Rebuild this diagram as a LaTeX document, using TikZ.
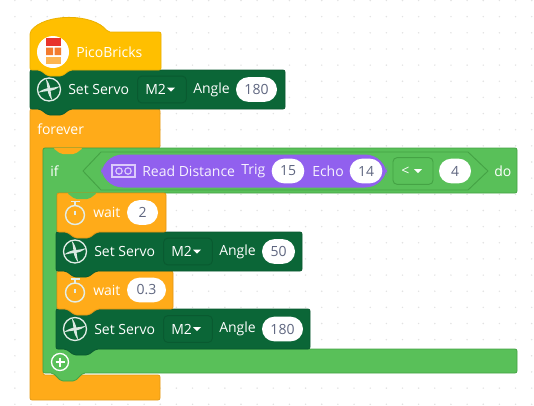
\documentclass[tikz,border=0pt]{standalone}
\usepackage{fontspec}
\setmainfont{Open Sans}
\usetikzlibrary{shapes.misc}

\definecolor{hatyellow}{HTML}{FFBF00}
\definecolor{loopamber}{HTML}{FFAB19}
\definecolor{servogreen}{HTML}{0B6637}
\definecolor{ifgreen}{HTML}{59C059}
\definecolor{ifedge}{HTML}{45A345}
\definecolor{sensorpurple}{HTML}{9160EE}
\definecolor{lavender}{HTML}{DCCBFB}
\definecolor{pilltext}{HTML}{5F6680}
\definecolor{griddot}{HTML}{E2E2E2}
\definecolor{dropdark}{HTML}{095A30}
\definecolor{brickred}{HTML}{E8332C}
\definecolor{brickorange}{HTML}{F37B2E}
\definecolor{bricklight}{HTML}{FDB550}

% block with a tab under it
\newcommand{\stackblock}[5]{
\draw[block,fill=#5,draw=#5!88!black] (#1,#2) -- (#3,#2) -- (#3,#4) -- ({#1+40},#4) -- ({#1+32},{#4+6})
 -- ({#1+18},{#4+6}) -- ({#1+10},#4) -- (#1,#4) -- cycle;
}
\newcommand{\tabonly}[3]{
\fill[#3,rounded corners=1.5pt] ({#1+10},#2) -- ({#1+18},{#2+6}) -- ({#1+32},{#2+6}) -- ({#1+40},#2) -- cycle;
}
% servo row: name, left, top, bottom, right, pill end, value
\newcommand{\servorow}[7]{
\stackblock{#2}{#3}{#5}{#4}{servogreen}
\begin{scope}[shift={({#2+19},{(#3+#4)/2})}]
\draw[iconline,line width=1pt] (0,0) circle (11.5);
\foreach \a in {0,90,180,270}{
\fill[white!85!servogreen,rotate=\a] (0,-1.5) .. controls (4,-1.8) and (8,-2.4) .. (11,-3.4) .. controls (8,-.5) and (4,1) .. (0,1.5) -- cycle;
}
\end{scope}
\node[lbl] (#1set) at ({#2+38},{(#3+#4)/2}) {Set Servo};
\node[drop,draw=dropdark] (#1port) at ({#2+132},{(#3+#4)/2}) {};
\node[lbl] (#1m) at ({#2+115},{(#3+#4)/2}) {M2};
\fill[white] ({#2+137},{(#3+#4)/2-2}) -- ({#2+145},{(#3+#4)/2-2}) -- ({#2+141},{(#3+#4)/2+2}) -- cycle;
\node[lbl] (#1angle) at ({#2+163},{(#3+#4)/2}) {Angle};
\node[pill,minimum width={(#6-#2-206)*.75pt}] (#1val) at ({(#2+206+#6)/2},{(#3+#4)/2}) {#7};
}
% wait row: name, top, bottom, right, pill end, value
\newcommand{\waitrow}[6]{
\stackblock{57}{#2}{#4}{#3}{loopamber}
\begin{scope}[shift={(75,{(#2+#3)/2+2.5})}]
\draw[iconline,line width=1.1pt] (0,0) circle (9.5);
\draw[iconline] (0,-10) -- (0,-13);
\draw[iconline,line width=1.1pt] (-4.5,-13.5) -- (4.5,-13.5);
\draw[iconline,line width=1.1pt] (0,0) -- (0,-4);
\end{scope}
\node[lbl] (#1txt) at (93,{(#2+#3)/2}) {wait};
\node[pill,minimum width={(#5-127)*.75pt}] (#1val) at ({(127+#5)/2},{(#2+#3)/2}) {#6};
}

\begin{document}
\begin{tikzpicture}[x=.75pt,y=-.75pt,
 block/.style={line width=.6pt,rounded corners=1.5pt},
 lbl/.style={anchor=west,inner sep=0pt,text=white,font=\fontsize{10.5}{12}\selectfont},
 pill/.style={rounded rectangle,fill=white,text=pilltext,inner sep=0pt,minimum height=18.5pt,font=\fontsize{10.5}{12}\selectfont},
 drop/.style={rectangle,rounded corners=3pt,line width=.7pt,inner sep=0pt,minimum width=36.5pt,minimum height=20pt},
 iconline/.style={draw=white!88!servogreen,line width=.8pt,line join=round}]
\useasboundingbox (0,0) rectangle (534,405);
\fill[white] (0,0) rectangle (534,405);

\foreach \i in {0,...,32}{
\foreach \j in {0,...,25}{
\fill[griddot] ({14.9+16.15*\i},{.5+16.15*\j}) circle (.8);
}}

% forever
\draw[block,fill=loopamber,draw=loopamber!90!black] (30,109) -- (160,109) -- (160,148) -- (43,148) -- (43,375)
 -- (160,375) -- (160,400) -- (30,400) -- cycle;
\node[lbl] (foreverlbl) at (37,129) {forever};

% if
\draw[block,fill=ifgreen,draw=ifedge] (43,148) -- (517,148) -- (517,193) -- (57,193) -- (57,349) -- (517,349)
 -- (517,373) -- (83,373) -- (75,381) -- (61,381) -- (53,373) -- (43,373) -- cycle;
\tabonly{43}{148}{loopamber}
\node[lbl] (iflbl) at (50,171) {if};
\node[lbl] (dolbl) at (494,171) {do};
\draw[ifedge,line width=.7pt,line join=round] (83,171) -- (101,152) -- (468,152) -- (488,171) -- (468,190) -- (101,190) -- cycle;

% condition
\fill[sensorpurple,rounded corners=16.5] (101,154.5) rectangle (387,187.5);
\draw[lavender,line width=.9pt] (112,165) rectangle (135,177);
\draw[lavender,line width=.9pt] (119,171) circle (3.2) (128,171) circle (3.2);
\node[lbl,text=white!92!sensorpurple] (readlbl) at (142,171) {Read Distance};
\node[lbl,text=white!92!sensorpurple] (triglbl) at (241,171) {Trig};
\node[pill,minimum width=24.5pt] (trigval) at (288,171) {15};
\node[lbl,text=white!92!sensorpurple] (echolbl) at (312,171) {Echo};
\node[pill,minimum width=24.5pt] (echoval) at (366,171) {14};
\node[drop,draw=ifedge,minimum width=30pt] (cmpbox) at (413,171) {};
\node[lbl] (cmplbl) at (401,171) {<};
\fill[white] (414,169) -- (422,169) -- (418,173) -- cycle;
\node[pill,minimum width=24pt] (cmpval) at (455,171) {4};

% plus
\draw[white,line width=1pt,fill=ifgreen] (60,362) circle (8.5);
\draw[white,line width=2.2pt] (55.5,362) -- (64.5,362) (60,357.5) -- (60,366.5);

% inner stack, lowest first
\servorow{servoc}{56}{309}{349}{310}{303}{180}
\waitrow{waitb}{271}{309}{173}{166}{0.3}
\servorow{servob}{56}{232}{271}{302}{295}{50}
\waitrow{waita}{193}{232}{166}{158}{2}
\tabonly{57}{193}{ifgreen}

% top of the stack
\servorow{servoa}{30}{70}{109}{285}{277}{180}
\draw[block,fill=hatyellow,draw=hatyellow!92!black] (30,32) .. controls (45,13) and (93,13) .. (108,32) -- (161,32) -- (161,70)
 -- (70,70) -- (62,76) -- (48,76) -- (40,70) -- (30,70) -- cycle;
\fill[white] (53,52) circle (16);
\fill[brickred] (46,38) rectangle (61,45.5);
\fill[brickorange] (46,47.5) rectangle (53,55) (54.5,47.5) rectangle (61,55);
\fill[bricklight] (46,57) rectangle (61,64);
\node[lbl] (hatlbl) at (76,52) {PicoBricks};
\end{tikzpicture}
\end{document}
